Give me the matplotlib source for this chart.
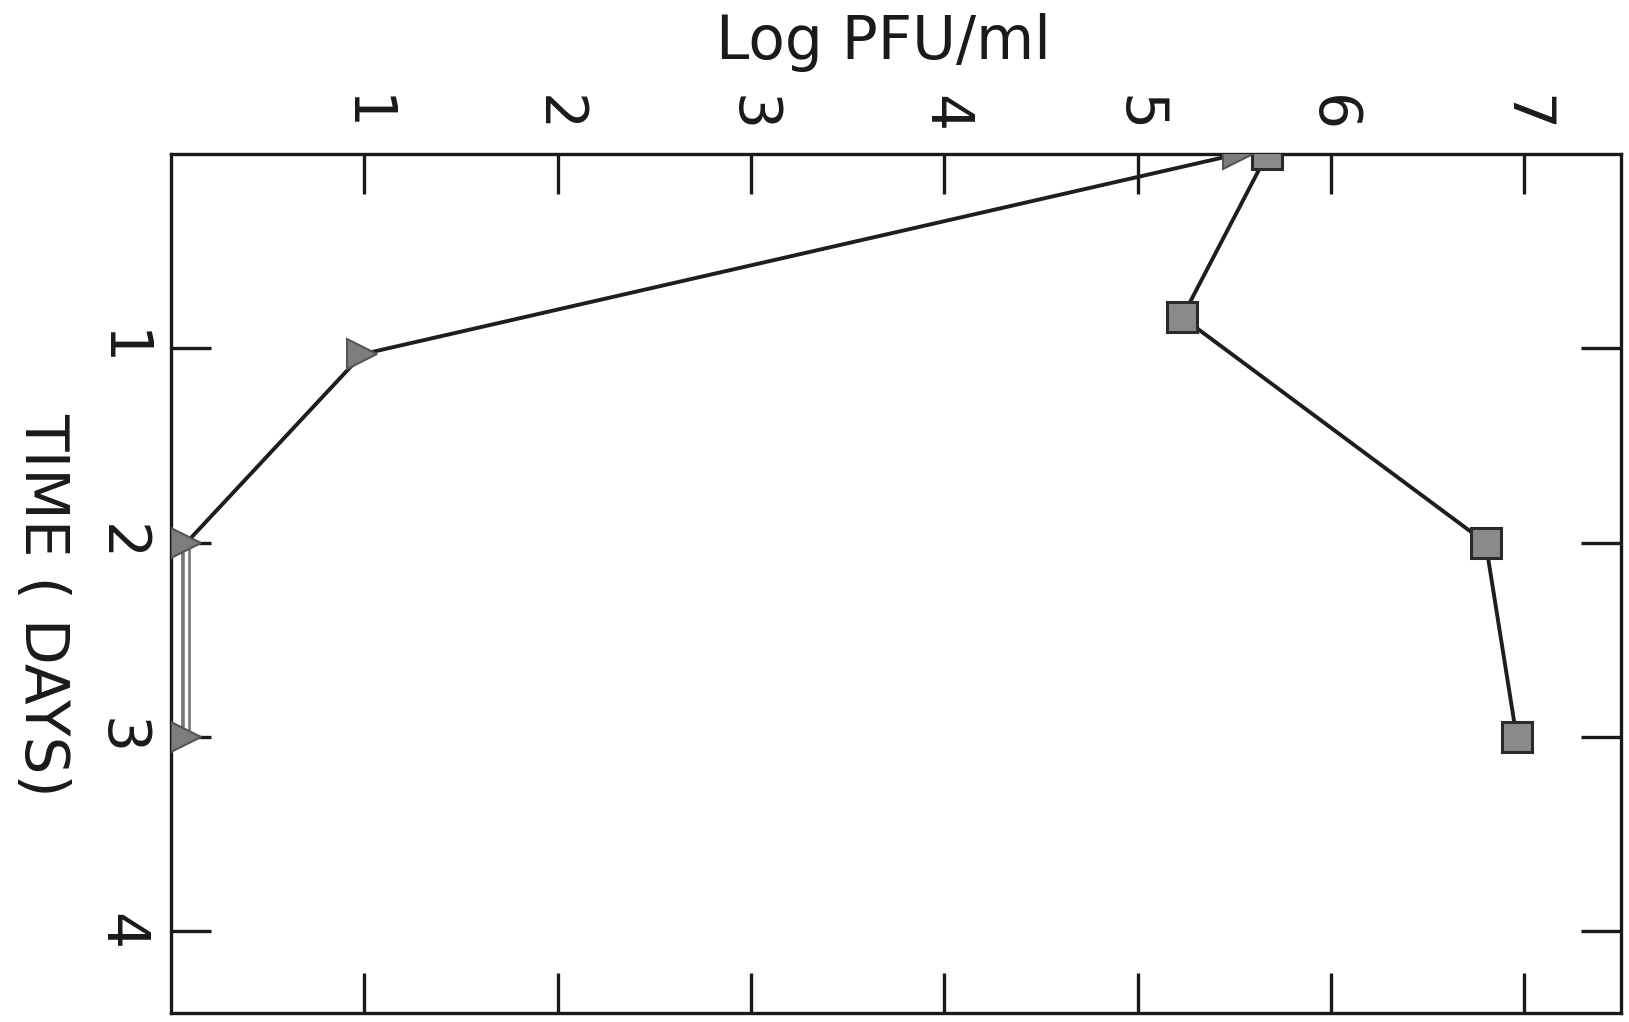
import matplotlib.pyplot as plt

# Values (time in days, titre in log PFU/ml)
days_sq = [0, 0.84, 2, 3]
pfu_sq = [5.67, 5.23, 6.80, 6.96]
days_tri = [0, 1.03, 2, 3]
pfu_tri = [5.52, 0.99, 0.08, 0.08]

pfu_ticks = [1, 2, 3, 4, 5, 6, 7]
day_ticks = [1, 2, 3, 4]

plt.rcParams['font.family'] = ['DejaVu Sans']

fig = plt.figure(figsize=(16.29, 10.22), dpi=100)
ax = fig.add_axes([171 / 1629, 1 - 1013 / 1022, 1450 / 1629, 859 / 1022])

# squares
ax.plot(pfu_sq, days_sq, '-', color='#1e1e1e', lw=2.8, zorder=2)
ax.plot(pfu_sq, days_sq, 's', ms=22, mfc='#8a8a8a', mec='#2a2a2a', mew=2.2, zorder=3)

# triangles: solid line down to day 2, then a hollow double line
ax.plot(pfu_tri[:3], days_tri[:3], '-', color='#1e1e1e', lw=2.8, zorder=2)
ax.plot(pfu_tri[2:], days_tri[2:], '-', color='#777777', lw=7, zorder=2, solid_capstyle='butt')
ax.plot(pfu_tri[2:], days_tri[2:], '-', color='white', lw=2.5, zorder=2, solid_capstyle='butt')
ax.plot(pfu_tri, days_tri, '>', ms=21, mfc='#7d7d7d', mec='#555555', mew=1.5, zorder=3)

ax.set_xlim(0, 7.5)
ax.set_ylim(4.42, 0)
ax.set_xticks(pfu_ticks)
ax.set_yticks(day_ticks)

ax.xaxis.tick_top()
ax.tick_params(axis='both', direction='in', length=29, width=2.4, labelsize=42,
               pad=16, labelrotation=-90, colors='#1a1a1a',
               top=True, bottom=True, left=True, right=True,
               labeltop=True, labelbottom=False, labelleft=True, labelright=False)
for lab in ax.get_yticklabels():
    lab.set_va('center')

for sp in ax.spines.values():
    sp.set_linewidth(2.4)
    sp.set_color('#1a1a1a')

fig.text(883 / 1629, 1 - 42 / 1022, 'Log PFU/ml', fontsize=43, ha='center', va='center',
         color='#1a1a1a')
fig.text(42 / 1629, 1 - 605 / 1022, 'TIME ( DAYS)', fontsize=43, rotation=-90,
         ha='center', va='center', color='#1a1a1a')

fig.savefig('out.png', dpi=100)
